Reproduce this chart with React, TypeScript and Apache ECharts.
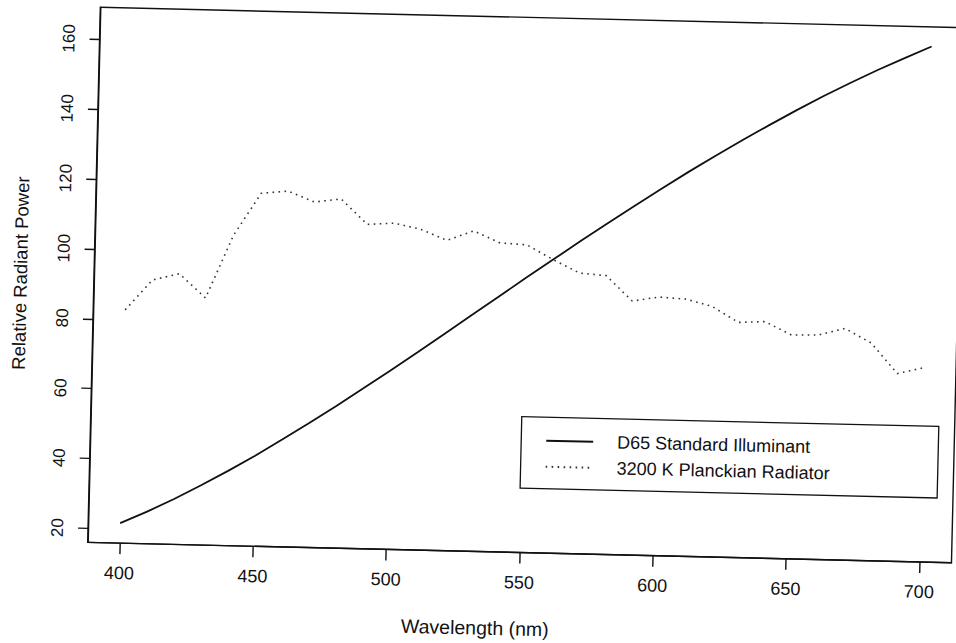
import React, { useEffect, useRef } from "react";
import * as echarts from "echarts";

// Solid curve, sampled every 10 nm
const solidWavelengths = [
  400, 410, 420, 430, 440, 450, 460, 470, 480, 490, 500, 510, 520, 530, 540, 550,
  560, 570, 580, 590, 600, 610, 620, 630, 640, 650, 660, 670, 680, 690, 700,
];
const d65Power = [
  21.7, 25.2, 29.0, 33.1, 37.4, 41.9, 46.7, 51.6, 56.7, 61.9, 67.2, 72.6, 78.1, 83.6, 89.1, 94.6,
  100.0, 105.4, 110.7, 115.9, 121.0, 126.0, 130.8, 135.5, 140.0, 144.4, 148.6, 152.6, 156.4, 160.0, 163.5,
];

// Dotted curve, sampled every 5 nm
const dottedWavelengths = [
  400, 405, 410, 415, 420, 425, 430, 435, 440, 445, 450, 455, 460, 465, 470, 475, 480, 485, 490, 495,
  500, 505, 510, 515, 520, 525, 530, 535, 540, 545, 550, 555, 560, 565, 570, 575, 580, 585, 590, 595,
  600, 605, 610, 615, 620, 625, 630, 635, 640, 645, 650, 655, 660, 665, 670, 675, 680, 685, 690, 695, 700,
];
const planckianPower = [
  82.75, 87.12, 91.49, 92.46, 93.43, 90.06, 86.68, 95.77, 104.86, 110.94,
  117.01, 117.41, 117.81, 116.34, 114.86, 115.39, 115.92, 112.37, 108.81, 109.08,
  109.35, 108.58, 107.8, 106.3, 104.79, 106.24, 107.69, 106.05, 104.41, 104.23,
  104.05, 102.02, 100.0, 98.17, 96.33, 96.06, 95.79, 92.24, 88.69, 89.35,
  90.01, 89.8, 89.6, 88.65, 87.7, 85.49, 83.29, 83.49, 83.7, 81.86,
  80.03, 80.12, 80.21, 81.25, 82.28, 80.28, 78.28, 74.0, 69.72, 70.67, 71.61,
];

const seriesNames = ["D65 Standard Illuminant", "3200 K Planckian Radiator"];
const xTicks = [400, 450, 500, 550, 600, 650, 700];
const yTicks = [20, 40, 60, 80, 100, 120, 140, 160];
const xTitle = "Wavelength (nm)";
const yTitle = "Relative Radiant Power";

const FONT = '"Liberation Sans", Arial, Helvetica, sans-serif';
const INK = "#111";

export default function App() {
  const ref = useRef<HTMLDivElement>(null);

  useEffect(() => {
    if (!ref.current) return;
    const chart = echarts.init(ref.current, null, { renderer: "svg" });

    const solidData = solidWavelengths.map((w, i) => [w, d65Power[i]]);
    const dottedData = dottedWavelengths.map((w, i) => [w, planckianPower[i]]);

    chart.setOption({
      animation: false,
      backgroundColor: "#fff",
      grid: {
        left: 115,
        top: 44.3,
        right: 21,
        bottom: 120.5,
        show: true,
        borderColor: INK,
        borderWidth: 1.4,
        backgroundColor: "transparent",
      },
      xAxis: {
        type: "value",
        min: 388,
        max: 712,
        name: xTitle,
        nameLocation: "middle",
        nameGap: 66,
        nameTextStyle: {
          fontFamily: FONT,
          fontSize: 19.5,
          color: INK,
          padding: [0, 86, 0, 0],
        },
        axisLine: { show: true, lineStyle: { color: INK, width: 1.4 } },
        axisTick: {
          show: true,
          length: 11,
          customValues: xTicks,
          lineStyle: { color: INK, width: 1.4 },
        },
        axisLabel: {
          customValues: xTicks,
          margin: 21,
          fontFamily: FONT,
          fontSize: 18,
          color: INK,
        },
        splitLine: { show: false },
      },
      yAxis: {
        type: "value",
        min: 16.0,
        max: 169.1,
        name: yTitle,
        nameLocation: "middle",
        nameGap: 64,
        nameRotate: 90,
        nameTextStyle: { fontFamily: FONT, fontSize: 18.5, color: INK },
        axisLine: { show: true, lineStyle: { color: INK, width: 1.4 } },
        axisTick: {
          show: true,
          length: 10,
          customValues: yTicks,
          lineStyle: { color: INK, width: 1.4 },
        },
        axisLabel: {
          customValues: yTicks,
          rotate: 90,
          margin: 22,
          fontFamily: FONT,
          fontSize: 17,
          color: INK,
        },
        splitLine: { show: false },
      },
      legend: {
        orient: "vertical",
        left: 546,
        top: 443.6,
        padding: [14.5, 108, 13, 24],
        itemGap: 8,
        itemWidth: 47,
        itemHeight: 18,
        borderColor: INK,
        borderWidth: 1.3,
        backgroundColor: "#fff",
        itemStyle: { opacity: 0 },
        textStyle: {
          fontFamily: FONT,
          fontSize: 18,
          lineHeight: 18,
          color: INK,
          padding: [0, 0, 0, 19],
        },
        data: seriesNames,
      },
      series: [
        {
          name: seriesNames[0],
          type: "line",
          data: solidData,
          symbol: "none",
          smooth: false,
          lineStyle: { color: INK, width: 1.8, type: "solid" },
          itemStyle: { color: INK },
          z: 3,
        },
        {
          name: seriesNames[1],
          type: "line",
          data: dottedData,
          symbol: "none",
          smooth: false,
          lineStyle: { color: "#333", width: 1.6, type: [1.6, 4.4] },
          itemStyle: { color: "#333" },
          z: 2,
        },
      ],
    });

    return () => chart.dispose();
  }, []);

  return (
    <div
      style={{
        position: "fixed",
        left: 0,
        top: 0,
        width: 956,
        height: 643,
        overflow: "hidden",
        background: "#fff",
      }}
    >
      <div
        ref={ref}
        style={{
          position: "absolute",
          left: -22,
          top: -28,
          width: 1000,
          height: 700,
          transform: "rotate(1.35deg)",
          transformOrigin: "50% 50%",
        }}
      />
    </div>
  );
}
